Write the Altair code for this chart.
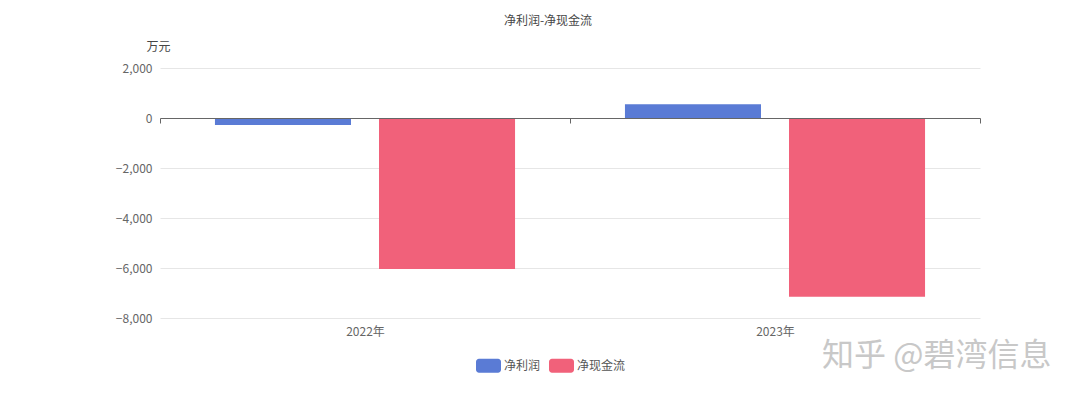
import altair as alt
import pandas as pd

years = ["2022年", "2023年"]
series = ["净利润", "净现金流"]
net_profit = [-280, 548]
net_cash = [-6040, -7150]
colors = ["#5a7bd5", "#f1617a"]
y_ticks = [-8000, -6000, -4000, -2000, 0, 2000]
watermark = ["知乎 @碧湾信息"]

rows = []
for i, yr in enumerate(years):
    rows.append({"年份": yr, "指标": series[0], "值": net_profit[i]})
    rows.append({"年份": yr, "指标": series[1], "值": net_cash[i]})
df = pd.DataFrame(rows)

FONT = "Noto Sans CJK SC"
GRAY = "#666666"

rounded = ("M-0.76,-0.56 L0.76,-0.56 A0.24,0.24 0 0 1 1,-0.32 L1,0.32 "
           "A0.24,0.24 0 0 1 0.76,0.56 L-0.76,0.56 A0.24,0.24 0 0 1 -1,0.32 "
           "L-1,-0.32 A0.24,0.24 0 0 1 -0.76,-0.56 Z")

bars = alt.Chart(df).mark_bar().encode(
    x=alt.X("年份:N", sort=years,
            scale=alt.Scale(paddingInner=0, paddingOuter=0),
            axis=alt.Axis(title=None, offset=-200, tickBand="extent",
                          domainColor=GRAY, tickColor=GRAY, tickSize=5,
                          labelPadding=203, labelColor=GRAY, labelFontSize=12,
                          labelAngle=0, labelFont=FONT, zindex=1, grid=False)),
    xOffset=alt.XOffset("指标:N", sort=series,
                        scale=alt.Scale(paddingInner=0.1707, paddingOuter=0.335)),
    y=alt.Y("值:Q", scale=alt.Scale(domain=[-8000, 2000], nice=False),
            axis=alt.Axis(values=y_ticks, format=",.0f", domain=False, ticks=False,
                          gridColor="#e6e6e6", labelColor=GRAY, labelPadding=8,
                          labelFontSize=12, labelFont=FONT,
                          title="万元", titleAngle=0, titleX=-2, titleY=-22,
                          titleAlign="center", titleBaseline="middle",
                          titleFontWeight="normal", titleColor="#464646",
                          titleFontSize=12, titleFont=FONT)),
    color=alt.Color("指标:N", sort=series,
                    scale=alt.Scale(domain=series, range=colors),
                    legend=alt.Legend(title=None, orient="none", legendX=316,
                                      legendY=285, direction="horizontal",
                                      symbolType=rounded, symbolSize=625,
                                      symbolStrokeWidth=0, symbolOpacity=1,
                                      labelFontSize=12, labelColor="#555555",
                                      labelFont=FONT, labelOffset=3,
                                      columnPadding=8)),
)

wm = alt.Chart(pd.DataFrame({"t": watermark})).mark_text(
    font=FONT, fontSize=32, color="#c8c8c8", align="left", baseline="middle"
).encode(text="t:N", x=alt.value(662), y=alt.value(288))

chart = alt.layer(bars, wm).properties(
    width=820, height=250,
    title=alt.TitleParams("净利润-净现金流", anchor="middle", fontSize=12,
                          fontWeight="normal", color="#464646", font=FONT,
                          offset=12, dx=-22),
    padding={"left": 152, "top": 60, "right": 92, "bottom": 74},
    autosize=alt.AutoSizeParams(type="none"),
).configure_view(stroke=None)

chart.save("out.html", embed_options={"renderer": "svg", "actions": False})
